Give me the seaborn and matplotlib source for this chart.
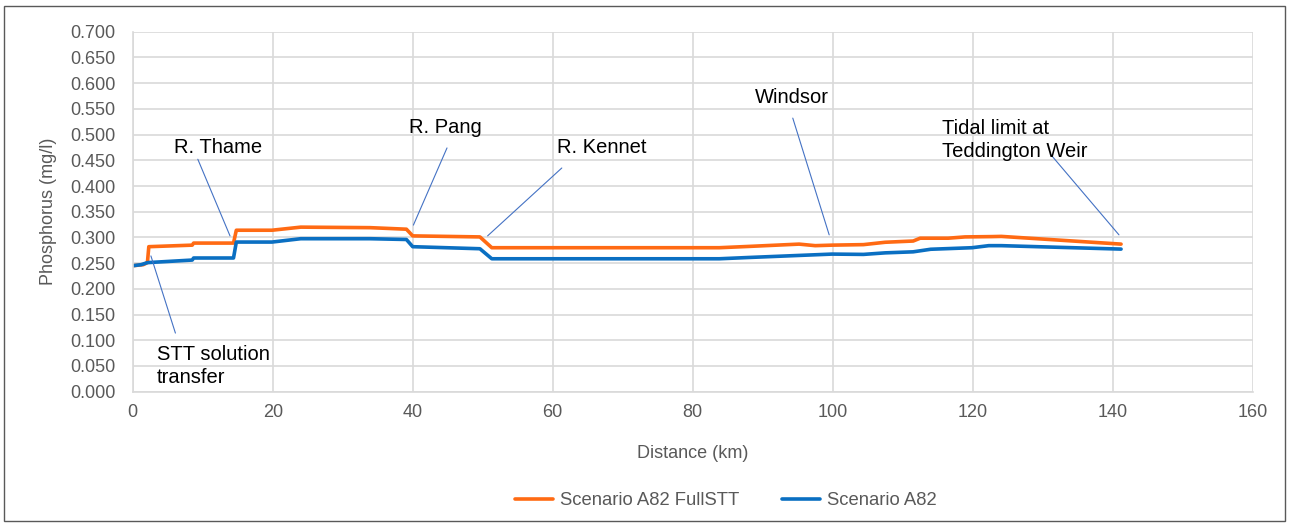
import matplotlib
matplotlib.use("Agg")
import matplotlib.pyplot as plt
import seaborn as sns
import pandas as pd
from matplotlib.patches import Rectangle
from matplotlib.ticker import FormatStrFormatter

# ---- data ----
full_km = [0, 1.5, 2.1, 2.3, 8.5, 8.7, 14.4, 14.8, 19.9, 24.0, 33.9, 39.1, 40.0,
           49.6, 51.3, 83.8, 88.0, 95.2, 97.5, 99.9, 104.4, 107.5, 111.5, 112.5,
           116.5, 118.9, 122.7, 124.1, 141.2]
full_p = [0.245, 0.247, 0.251, 0.282, 0.285, 0.289, 0.289, 0.314, 0.314, 0.320,
          0.319, 0.316, 0.303, 0.301, 0.280, 0.280, 0.2825, 0.287, 0.284, 0.285,
          0.286, 0.2906, 0.293, 0.2985, 0.2985, 0.301, 0.3016, 0.302, 0.287]

base_km = [0, 1.2, 2.1, 8.5, 8.7, 14.4, 14.8, 19.9, 24.0, 33.9, 39.1, 40.0, 49.6,
           51.3, 83.8, 88.0, 99.9, 104.4, 107.5, 111.5, 114.0, 119.9, 122.3,
           124.1, 141.2]
base_p = [0.245, 0.247, 0.251, 0.256, 0.260, 0.260, 0.291, 0.291, 0.2975, 0.2975,
          0.296, 0.282, 0.278, 0.2585, 0.2585, 0.261, 0.2676, 0.267, 0.270, 0.272,
          0.277, 0.280, 0.284, 0.284, 0.2773]

series_names = ["Scenario A82 FullSTT", "Scenario A82"]
x_ticks = [0, 20, 40, 60, 80, 100, 120, 140, 160]

# annotations: label, text position, line start, line end, alignment
labels = [
    ("R. Thame", (12.2, 0.474), (9.3, 0.452), (13.9, 0.303), "center"),
    ("R. Pang", (44.6, 0.513), (44.9, 0.474), (40.1, 0.324), "center"),
    ("R. Kennet", (67.0, 0.474), (61.3, 0.435), (50.7, 0.303), "center"),
    ("Windsor", (94.2, 0.573), (94.3, 0.532), (99.5, 0.305), "center"),
    ("Tidal limit at\nTeddington Weir", (115.6, 0.490), (131.1, 0.462), (140.9, 0.305), "left"),
    ("STT solution\ntransfer", (3.5, 0.050), (2.6, 0.264), (6.1, 0.114), "left"),
]

ORANGE = "#FF6A13"
BLUE = "#0A6FC2"
GRID = "#D9D9D9"
TXT = "#595959"

sns.set_theme(style="white")
plt.rcParams["font.family"] = ["Liberation Sans", "DejaVu Sans"]

fig = plt.figure(figsize=(12.91, 5.26), dpi=100)
ax = fig.add_axes([0.1028, 0.2553, 0.8675, 0.6844])

fig.patches.append(Rectangle((4 / 1291, 5 / 526), 1281 / 1291, 515 / 526,
                             transform=fig.transFigure, fill=False,
                             edgecolor="#595959", linewidth=1.0))

df_full = pd.DataFrame({"km": full_km, "p": full_p})
df_base = pd.DataFrame({"km": base_km, "p": base_p})
sns.lineplot(data=df_full, x="km", y="p", ax=ax, color=ORANGE, linewidth=2.6,
             sort=False, label=series_names[0])
sns.lineplot(data=df_base, x="km", y="p", ax=ax, color=BLUE, linewidth=2.6,
             sort=False, label=series_names[1])

ax.set_xlim(0, 160)
ax.set_ylim(0, 0.7)
ax.set_xticks(x_ticks)
ax.set_yticks([i * 0.05 for i in range(15)])
ax.yaxis.set_major_formatter(FormatStrFormatter("%.3f"))
ax.grid(True, color=GRID, linewidth=1.2)
ax.set_axisbelow(True)
for s in ["top", "right"]:
    ax.spines[s].set_visible(False)
for s in ["left", "bottom"]:
    ax.spines[s].set_color(GRID)
    ax.spines[s].set_linewidth(1.2)
ax.tick_params(axis="both", length=0, labelsize=13, colors=TXT)
ax.tick_params(axis="y", pad=12.5)
ax.tick_params(axis="x", pad=9)
ax.set_xlabel("Distance (km)", fontsize=13, color=TXT, labelpad=17)
ax.set_ylabel("Phosphorus (mg/l)", fontsize=13, color=TXT, labelpad=9)

for text, tpos, p0, p1, ha in labels:
    ax.annotate("", xy=p1, xytext=p0,
                arrowprops=dict(arrowstyle="-", color="#4472C4", lw=0.8,
                                shrinkA=0, shrinkB=0))
    ax.text(tpos[0], tpos[1], text, ha=ha, va="center", fontsize=14.5,
            color="black", linespacing=1.25)

ax.get_legend().remove()
handles, lbls = ax.get_legend_handles_labels()
fig.legend(handles, lbls, loc="center", bbox_to_anchor=(0.562, 0.048), ncol=2,
           frameon=False, fontsize=13.3, labelcolor=TXT, handlelength=2.1,
           columnspacing=2.3, handletextpad=0.35)

fig.savefig("out.png", dpi=100)
